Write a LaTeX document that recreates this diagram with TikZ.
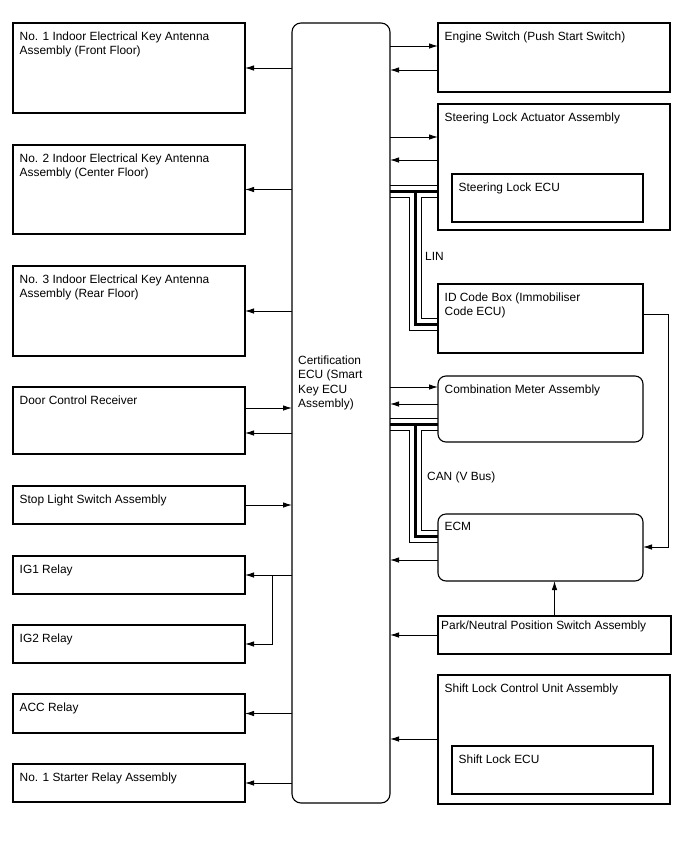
\documentclass[tikz,border=0pt]{standalone}
\usepackage{fontspec}
\setmainfont{Liberation Sans}
\usetikzlibrary{arrows.meta, backgrounds}

\tikzset{
	txt/.style={font=\fontsize{11.9}{14.5}\selectfont, align=left, inner sep=0pt},
	lbl/.style={txt, anchor=north west, xshift=6.5pt, yshift=-8.2pt},
	plain/.style={draw, line width=1.1pt, inner sep=0pt, outer sep=0pt, anchor=north west},
	box/.style={plain, label={[lbl]north west:{#1}}},
	rbox/.style={box=#1, rounded corners=8pt},
	arr/.style={line width=0.9pt, -{Latex[length=9pt, width=5.5pt]}}
}

\begin{document}
\begin{tikzpicture}[x=1pt, y=-1pt]
			\useasboundingbox (0,0) rectangle (688,852);
			\def\lx{13}
			\def\lw{232pt}
			\def\rx{438}

			% Certification ECU in the middle
			\node[plain, rounded corners=9pt, minimum width=98pt, minimum height=780pt] (ecu) at (292,23) {};
			\node[txt, anchor=north west] (ecu-t) at (298,355.5) {Certification\\ECU (Smart\\Key ECU\\Assembly)};

			% Left column
			\node[box={No. 1 Indoor Electrical Key Antenna\\Assembly (Front Floor)}, minimum width=\lw, minimum height=90pt] (no1) at (\lx,23) {};
			\node[box={No. 2 Indoor Electrical Key Antenna\\Assembly (Center Floor)}, minimum width=\lw, minimum height=89pt] (no2) at (\lx,145) {};
			\node[box={No. 3 Indoor Electrical Key Antenna\\Assembly (Rear Floor)}, minimum width=\lw, minimum height=90pt] (no3) at (\lx,266) {};
			\node[box={Door Control Receiver}, minimum width=\lw, minimum height=67pt] (dcr) at (\lx,387) {};
			\node[box={Stop Light Switch Assembly}, minimum width=\lw, minimum height=38pt] (stop) at (\lx,486) {};
			\node[box={IG1 Relay}, minimum width=\lw, minimum height=38pt] (ig1) at (\lx,556) {};
			\node[box={IG2 Relay}, minimum width=\lw, minimum height=38pt] (ig2) at (\lx,625) {};
			\node[box={ACC Relay}, minimum width=\lw, minimum height=39pt] (acc) at (\lx,694) {};
			\node[box={No. 1 Starter Relay Assembly}, minimum width=\lw, minimum height=38pt] (st) at (\lx,764) {};

			% Right column
			\node[box={Engine Switch (Push Start Switch)}, minimum width=232pt, minimum height=69pt] (eng) at (\rx,23) {};
			\node[box={Steering Lock Actuator Assembly}, minimum width=232pt, minimum height=126pt] (steer) at (\rx,104) {};
			\node[box={Steering Lock ECU}, minimum width=191pt, minimum height=48pt] (slecu) at (452,174) {};
			\node[box={ID Code Box (Immobiliser\\Code ECU)}, minimum width=205pt, minimum height=69pt] (idb) at (\rx,284) {};
			\node[rbox={Combination Meter Assembly}, minimum width=205pt, minimum height=66pt] (comb) at (\rx,376) {};
			\node[rbox={ECM}, minimum width=205pt, minimum height=67pt] (ecm) at (\rx,514) {};
			\node[plain, minimum width=233pt, minimum height=38pt,
				label={[lbl, xshift=-3.5pt, yshift=3.6pt]north west:Park/Neutral Position Switch Assembly}] (park) at (\rx,616) {};
			\node[box={Shift Lock Control Unit Assembly}, minimum width=232pt, minimum height=129pt] (shift) at (\rx,675) {};
			\node[box={Shift Lock ECU}, minimum width=201pt, minimum height=48pt] (shecu) at (452,746) {};

			% bus names
			\node[txt, anchor=north west] (lin) at (425,251.7) {LIN};
			\node[txt, anchor=north west] (can) at (427,471.7) {CAN (V Bus)};

			% ECU -> left side
			\draw[arr] (ecu.west |- no1.east) -- (no1.east);
			\draw[arr] (ecu.west |- no2.east) -- (no2.east);
			\draw[arr] (ecu.west |- no3.east) -- (no3.east);
			\draw[arr] (dcr.east |- 0,408) -- (ecu.west |- 0,408);
			\draw[arr] (ecu.west |- 0,433) -- (dcr.east |- 0,433);
			\draw[arr] (stop.east) -- (ecu.west |- stop.east);
			\draw[arr] (ecu.west |- ig1.east) -- (ig1.east);
			\draw[arr] ([xshift=27pt]ig1.east) |- (ig2.east);
			\draw[arr] (ecu.west |- acc.east) -- (acc.east);
			\draw[arr] (ecu.west |- st.east) -- (st.east);

			% ECU <-> right side
			\draw[arr] (ecu.east |- 0,46) -- (eng.west |- 0,46);
			\draw[arr] (eng.west |- 0,70) -- (ecu.east |- 0,70);
			\draw[arr] (ecu.east |- 0,137) -- (steer.west |- 0,137);
			\draw[arr] (steer.west |- 0,160) -- (ecu.east |- 0,160);
			\draw[arr] (ecu.east |- 0,387) -- (comb.west |- 0,387);
			\draw[arr] (comb.west |- 0,404) -- (ecu.east |- 0,404);
			\draw[arr] (ecm.west |- 0,560) -- (ecu.east |- 0,560);
			\draw[arr] (park.west) -- (ecu.east |- park.west);
			\draw[arr] (shift.west |- 0,739) -- (ecu.east |- 0,739);
			\draw[arr] (idb.east |- 0,314) -- (668,314) |- (ecm.east |- 0,547);
			\draw[arr] (park.north) -- (ecm.south -| park.north);

			% LIN and CAN buses (thin-thick-thin)
			\begin{scope}[on background layer]
				\foreach \w/\c in {13/black, 11/white, 3/black} {
					\draw[line width=\w pt, \c] (ecu.east |- 0,191) -- (steer.west |- 0,191)
						(415,191) |- (idb.west |- 0,324);
					\draw[line width=\w pt, \c] (ecu.east |- 0,424) -- (comb.west |- 0,424)
						(415,424) |- (ecm.west |- 0,536);
				}
			\end{scope}

		\end{tikzpicture}
\end{document}
